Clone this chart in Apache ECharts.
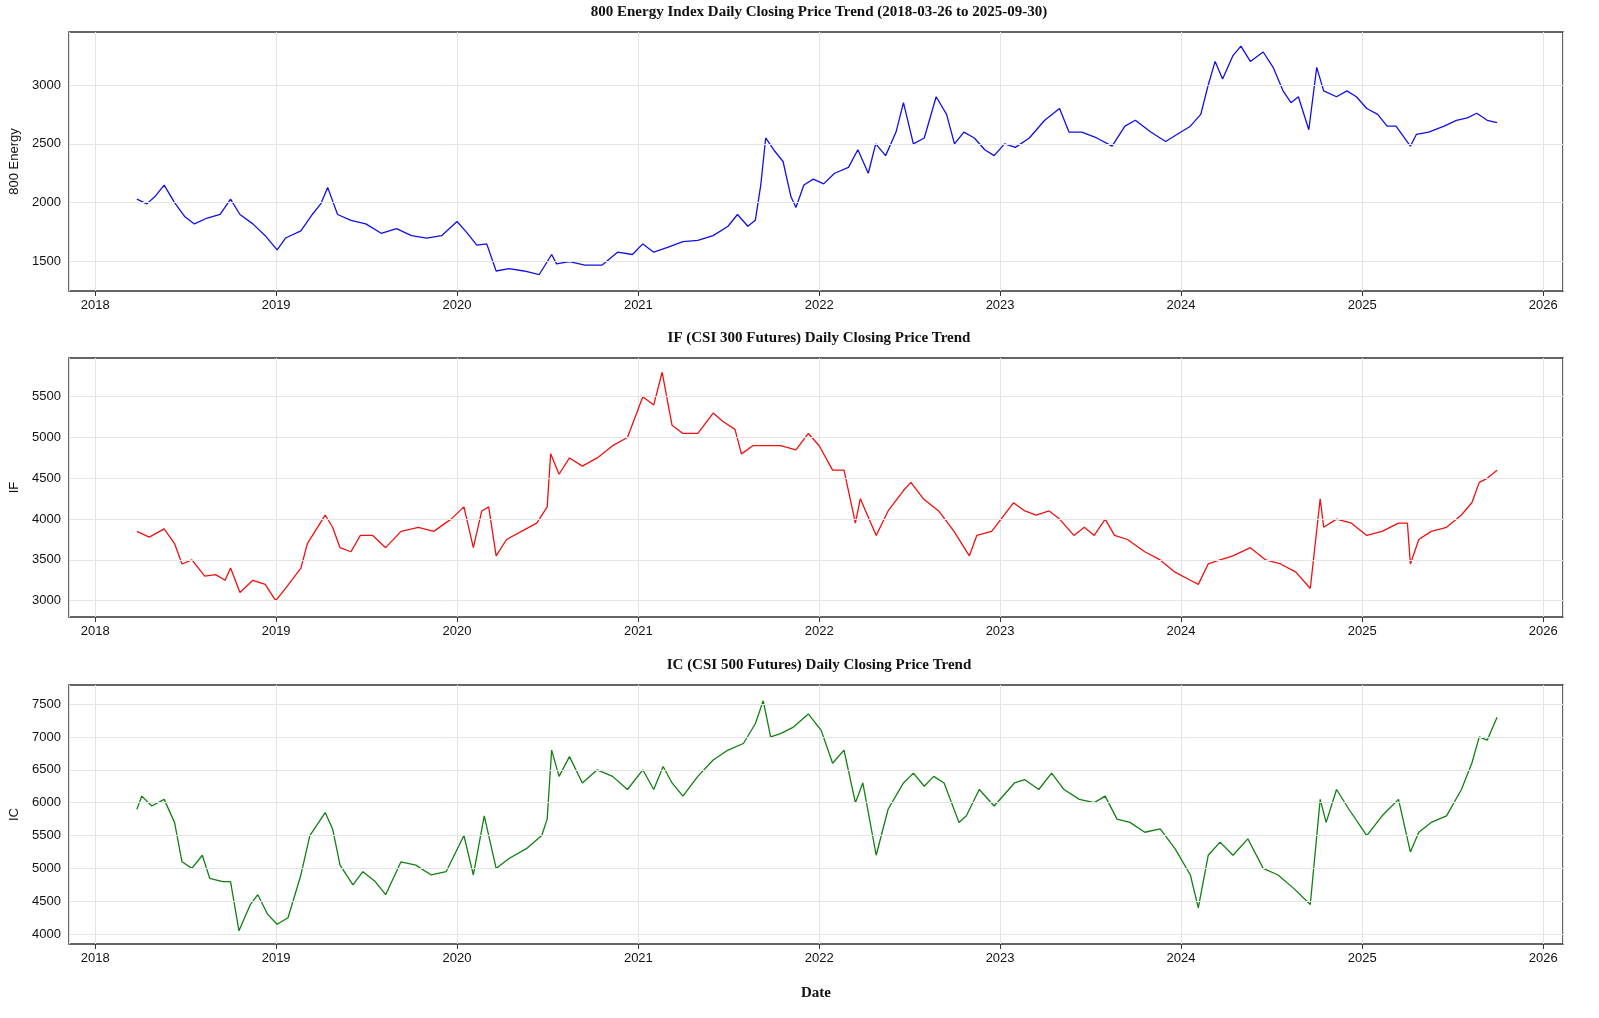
<!DOCTYPE html>
<html>
<head>
<meta charset="utf-8">
<script src="https://cdn.jsdelivr.net/npm/echarts@6/dist/echarts.min.js"></script>
<style>
html, body { margin: 0; padding: 0; background: #fff; }
#main { width: 1599px; height: 1018px; }
</style>
</head>
<body>
<div id="main"></div>
<script>
// 800 Energy 指数
var energyDates = ['2018-03-26','2018-04-15','2018-05-01','2018-05-20','2018-06-10','2018-07-01','2018-07-20','2018-08-15','2018-09-10','2018-10-01','2018-10-20','2018-11-15','2018-12-10','2019-01-03','2019-01-20','2019-02-20','2019-03-15','2019-04-01','2019-04-15','2019-05-05','2019-06-01','2019-07-01','2019-08-01','2019-09-01','2019-10-01','2019-11-01','2019-12-01','2020-01-01','2020-01-20','2020-02-10','2020-03-01','2020-03-20','2020-04-15','2020-05-15','2020-06-15','2020-07-10','2020-07-20','2020-08-15','2020-09-15','2020-10-20','2020-11-20','2020-12-20','2021-01-10','2021-02-01','2021-03-01','2021-04-01','2021-05-01','2021-06-01','2021-07-01','2021-07-20','2021-08-10','2021-08-25','2021-09-05','2021-09-15','2021-10-01','2021-10-20','2021-11-05','2021-11-15','2021-12-01','2021-12-20','2022-01-10','2022-02-01','2022-03-01','2022-03-20','2022-04-10','2022-04-25','2022-05-15','2022-06-05','2022-06-20','2022-07-10','2022-08-01','2022-08-25','2022-09-15','2022-10-01','2022-10-20','2022-11-10','2022-12-01','2022-12-20','2023-01-10','2023-02-01','2023-03-01','2023-04-01','2023-05-01','2023-05-20','2023-06-15','2023-07-15','2023-08-15','2023-09-10','2023-10-01','2023-11-01','2023-12-01','2024-01-01','2024-01-20','2024-02-10','2024-02-25','2024-03-10','2024-03-25','2024-04-15','2024-05-01','2024-05-20','2024-06-15','2024-07-05','2024-07-25','2024-08-10','2024-08-25','2024-09-15','2024-10-01','2024-10-15','2024-11-10','2024-12-01','2024-12-20','2025-01-10','2025-02-01','2025-02-20','2025-03-10','2025-04-08','2025-04-20','2025-05-15','2025-06-15','2025-07-10','2025-08-01','2025-08-20','2025-09-10','2025-09-30'];
var energyValues = [2030,1990,2050,2150,2000,1880,1820,1870,1900,2030,1900,1820,1720,1600,1700,1760,1900,1990,2130,1900,1850,1820,1740,1780,1720,1700,1720,1840,1750,1640,1650,1420,1440,1420,1390,1560,1480,1500,1470,1470,1580,1560,1650,1580,1620,1670,1680,1720,1800,1900,1800,1850,2150,2550,2450,2350,2050,1960,2150,2200,2160,2250,2300,2450,2250,2500,2400,2600,2850,2500,2550,2900,2750,2500,2600,2550,2450,2400,2500,2470,2550,2700,2800,2600,2600,2550,2480,2650,2700,2600,2520,2600,2650,2750,3000,3200,3050,3250,3330,3200,3280,3150,2950,2850,2900,2620,3150,2950,2900,2950,2900,2800,2750,2650,2650,2480,2580,2600,2650,2700,2720,2760,2700,2680];

// IF 沪深300期货
var ifDates = ['2018-03-26','2018-04-20','2018-05-20','2018-06-10','2018-06-25','2018-07-15','2018-08-10','2018-09-01','2018-09-20','2018-10-01','2018-10-20','2018-11-15','2018-12-10','2018-12-31','2019-01-20','2019-02-20','2019-03-05','2019-04-10','2019-04-25','2019-05-10','2019-06-01','2019-06-20','2019-07-15','2019-08-10','2019-09-10','2019-10-15','2019-11-15','2019-12-20','2020-01-15','2020-02-03','2020-02-20','2020-03-05','2020-03-20','2020-04-10','2020-05-10','2020-06-10','2020-07-01','2020-07-08','2020-07-25','2020-08-15','2020-09-10','2020-10-10','2020-11-10','2020-12-10','2021-01-10','2021-02-01','2021-02-18','2021-03-10','2021-04-01','2021-05-01','2021-06-01','2021-06-20','2021-07-15','2021-07-28','2021-08-20','2021-09-15','2021-10-15','2021-11-15','2021-12-10','2022-01-01','2022-01-28','2022-02-20','2022-03-15','2022-03-25','2022-04-26','2022-05-20','2022-06-20','2022-07-05','2022-07-30','2022-08-30','2022-09-30','2022-10-31','2022-11-15','2022-12-15','2023-01-28','2023-02-20','2023-03-15','2023-04-10','2023-05-01','2023-05-30','2023-06-20','2023-07-10','2023-08-01','2023-08-20','2023-09-15','2023-10-20','2023-11-20','2023-12-20','2024-01-20','2024-02-05','2024-02-25','2024-03-20','2024-04-15','2024-05-20','2024-06-20','2024-07-20','2024-08-20','2024-09-18','2024-10-08','2024-10-15','2024-11-10','2024-12-10','2025-01-10','2025-02-10','2025-03-15','2025-04-02','2025-04-08','2025-04-25','2025-05-20','2025-06-20','2025-07-20','2025-08-10','2025-08-25','2025-09-10','2025-09-30'];
var ifValues = [3850,3780,3880,3700,3450,3500,3300,3320,3250,3400,3100,3250,3200,3000,3150,3400,3700,4050,3900,3650,3600,3800,3800,3650,3850,3900,3850,4000,4150,3650,4100,4150,3550,3750,3850,3950,4150,4800,4550,4750,4650,4750,4900,5000,5500,5400,5800,5150,5050,5050,5300,5200,5100,4800,4900,4900,4900,4850,5050,4900,4600,4600,3950,4250,3800,4100,4350,4450,4250,4100,3850,3550,3800,3850,4200,4100,4050,4100,4000,3800,3900,3800,4000,3800,3750,3600,3500,3350,3250,3200,3450,3500,3550,3650,3500,3450,3350,3150,4250,3900,4000,3950,3800,3850,3950,3950,3450,3750,3850,3900,4050,4200,4450,4500,4600];

// IC 中证500期货
var icDates = ['2018-03-26','2018-04-05','2018-04-25','2018-05-20','2018-06-10','2018-06-25','2018-07-15','2018-08-05','2018-08-20','2018-09-15','2018-10-01','2018-10-18','2018-11-10','2018-11-25','2018-12-15','2019-01-03','2019-01-25','2019-02-20','2019-03-10','2019-04-10','2019-04-25','2019-05-10','2019-06-05','2019-06-25','2019-07-20','2019-08-10','2019-09-10','2019-10-10','2019-11-10','2019-12-10','2020-01-15','2020-02-03','2020-02-25','2020-03-20','2020-04-15','2020-05-20','2020-06-20','2020-07-01','2020-07-10','2020-07-25','2020-08-15','2020-09-10','2020-10-10','2020-11-10','2020-12-10','2021-01-10','2021-02-01','2021-02-20','2021-03-10','2021-04-01','2021-05-01','2021-06-01','2021-07-01','2021-08-01','2021-08-25','2021-09-10','2021-09-25','2021-10-15','2021-11-10','2021-12-10','2022-01-05','2022-01-28','2022-02-20','2022-03-15','2022-03-30','2022-04-26','2022-05-20','2022-06-20','2022-07-10','2022-08-01','2022-08-20','2022-09-10','2022-10-10','2022-10-25','2022-11-20','2022-12-20','2023-01-30','2023-02-20','2023-03-20','2023-04-15','2023-05-10','2023-06-10','2023-07-10','2023-08-01','2023-08-25','2023-09-20','2023-10-20','2023-11-20','2023-12-20','2024-01-20','2024-02-05','2024-02-25','2024-03-20','2024-04-15','2024-05-15','2024-06-15','2024-07-15','2024-08-15','2024-09-18','2024-10-08','2024-10-20','2024-11-10','2024-12-05','2025-01-10','2025-02-10','2025-03-15','2025-04-08','2025-04-25','2025-05-20','2025-06-20','2025-07-20','2025-08-10','2025-08-25','2025-09-10','2025-09-30'];
var icValues = [5900,6100,5950,6050,5700,5100,5000,5200,4850,4800,4800,4050,4450,4600,4300,4150,4250,4900,5500,5850,5600,5050,4750,4950,4800,4600,5100,5050,4900,4950,5500,4900,5800,5000,5150,5300,5500,5750,6800,6400,6700,6300,6500,6400,6200,6500,6200,6550,6300,6100,6400,6650,6800,6900,7200,7550,7000,7050,7150,7350,7100,6600,6800,6000,6300,5200,5900,6300,6450,6250,6400,6300,5700,5800,6200,5950,6300,6350,6200,6450,6200,6050,6000,6100,5750,5700,5550,5600,5300,4900,4400,5200,5400,5200,5450,5000,4900,4700,4450,6050,5700,6200,5900,5500,5800,6050,5250,5550,5700,5800,6200,6600,7000,6950,7300];

// y 轴刻度
var energyTicks = [1500, 2000, 2500, 3000];
var ifTicks = [3000, 3500, 4000, 4500, 5000, 5500];
var icTicks = [4000, 4500, 5000, 5500, 6000, 6500, 7000, 7500];

var titles = ['800 Energy Index Daily Closing Price Trend (2018-03-26 to 2025-09-30)',
	'IF (CSI 300 Futures) Daily Closing Price Trend',
	'IC (CSI 500 Futures) Daily Closing Price Trend'];
var yNames = ['800 Energy', 'IF', 'IC'];
var colors = ['#1010e8', '#f01010', '#108010'];
var yRanges = [[1250, 3450], [2800, 5975], [3850, 7790]];
var yTicks = [energyTicks, ifTicks, icTicks];
var gridTops = [32, 358, 685];

function pairs(d, v) {
	var out = [];
	for (var i = 0; i < d.length; i++) out.push([d[i], v[i]]);
	return out;
}
var seriesData = [pairs(energyDates, energyValues), pairs(ifDates, ifValues), pairs(icDates, icValues)];

var chart = echarts.init(document.getElementById('main'));
var option = { animation: false, title: [], grid: [], xAxis: [], yAxis: [], series: [] };
for (var k = 0; k < 3; k++) {
	option.title.push({
		text: titles[k], left: 814, top: gridTops[k] - 32, textAlign: 'center',
		textStyle: { fontFamily: 'Liberation Serif', fontWeight: 'bold', fontSize: 15, color: '#111' }
	});
	option.grid.push({ left: 65, right: 36, top: gridTops[k], height: 259, show: true,
		borderColor: '#333', borderWidth: 1.5, backgroundColor: '#fff' });
	option.xAxis.push({
		type: 'time', gridIndex: k,
		min: '2017-11-09', max: '2026-02-10', splitNumber: 8,
		name: k == 2 ? 'Date' : '', nameLocation: 'middle', nameGap: 42,
		nameTextStyle: { fontFamily: 'Liberation Serif', fontWeight: 'bold', fontSize: 15, color: '#111' },
		axisLine: { show: false }, axisTick: { show: true, lineStyle: { color: '#333' } },
		axisLabel: { formatter: '{yyyy}', color: '#111', fontSize: 13, fontFamily: 'Liberation Sans',
			showMinLabel: false, showMaxLabel: false },
		splitLine: { show: true, lineStyle: { color: '#e4e4e4' } }
	});
	var ticks = yTicks[k];
	option.yAxis.push({
		type: 'value', gridIndex: k, min: yRanges[k][0], max: yRanges[k][1], interval: 50,
		name: yNames[k], nameLocation: 'middle', nameGap: 48, nameRotate: 90,
		nameTextStyle: { fontFamily: 'Liberation Sans', fontSize: 13, color: '#111' },
		axisLine: { show: false }, axisTick: { show: false },
		axisLabel: { color: '#111', fontSize: 13, fontFamily: 'Liberation Sans',
			showMinLabel: false, showMaxLabel: false,
			formatter: (function(t) { return function(v) { return t.indexOf(v) >= 0 ? String(v) : ''; }; })(ticks) },
		splitLine: { show: false }
	});
	// 水平网格线
	option.series.push({
		type: 'line', xAxisIndex: k, yAxisIndex: k, data: [], z: 1, silent: true,
		markLine: { silent: true, symbol: 'none', label: { show: false },
			lineStyle: { color: '#e4e4e4', type: 'solid', width: 1 },
			data: ticks.map(function(t) { return { yAxis: t }; }) }
	});
	option.series.push({
		type: 'line', xAxisIndex: k, yAxisIndex: k, data: seriesData[k], z: 3,
		showSymbol: false, lineStyle: { color: colors[k], width: 1.3 }
	});
}
chart.setOption(option);
</script>
</body>
</html>
